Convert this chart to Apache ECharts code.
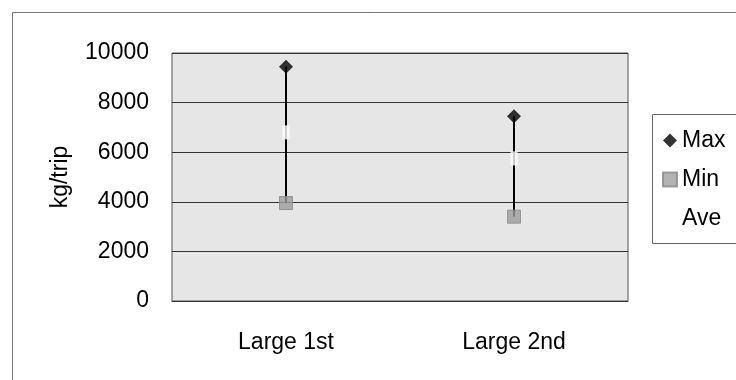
<!DOCTYPE html>
<html>
<head>
<meta charset="utf-8">
<script src="https://cdn.jsdelivr.net/npm/echarts@6/dist/echarts.min.js"></script>
<style>html,body{margin:0;padding:0;background:#fff;}#c{width:736px;height:380px;}</style>
</head>
<body>
<div id="c"></div>
<script>
const categories = ['Large 1st', 'Large 2nd'];
const maxValues = [9450, 7450];
const minValues = [3950, 3400];
const aveValues = [6800, 5750];
const yTicks = [0, 2000, 4000, 6000, 8000, 10000];

const FONT = 'Liberation Sans, Arial, sans-serif';
const chart = echarts.init(document.getElementById('c'), null, {renderer: 'canvas'});

const rangeData = categories.map((c, i) => [i, minValues[i], maxValues[i]]);

chart.setOption({
  animation: false,
  backgroundColor: '#fff',
  graphic: [
    {type: 'polyline', z: -10, shape: {points: [[12.5, 380], [12.5, 12.5], [736, 12.5]]}, style: {stroke: '#777', lineWidth: 1, fill: null}},
    {type: 'rect', z: -10, shape: {x: 652.5, y: 114.5, width: 120, height: 129}, style: {stroke: '#666', lineWidth: 1, fill: '#fff'}}
  ],
  grid: {left: 172, right: 108, top: 53, bottom: 79, show: true, backgroundColor: '#e6e6e6', borderColor: '#555', borderWidth: 1},
  legend: {
    orient: 'vertical', left: 657, top: 124, itemGap: 16, itemWidth: 14, itemHeight: 14,
    textStyle: {fontFamily: FONT, fontSize: 23, color: '#000'},
    data: [
      {name: 'Max', icon: 'diamond', itemStyle: {color: '#000'}},
      {name: 'Min', icon: 'rect', itemStyle: {color: '#a0a0a0'}},
      {name: 'Ave', icon: 'rect', itemStyle: {color: '#fff'}}
    ]
  },
  xAxis: {
    type: 'category', data: categories, boundaryGap: true,
    axisLine: {lineStyle: {color: '#333', width: 1}},
    axisTick: {inside: true, length: 5, lineStyle: {color: '#333'}},
    axisLabel: {fontFamily: FONT, fontSize: 23, color: '#000', margin: 30},
    splitLine: {show: false}
  },
  yAxis: {
    type: 'value', min: yTicks[0], max: yTicks[yTicks.length - 1], interval: 2000,
    name: 'kg/trip', nameLocation: 'middle', nameGap: 100, nameRotate: 90,
    nameTextStyle: {fontFamily: FONT, fontSize: 23, color: '#000'},
    axisLine: {show: false}, axisTick: {show: false},
    axisLabel: {fontFamily: FONT, fontSize: 23, color: '#000', margin: 23, formatter: v => String(v)},
    splitLine: {lineStyle: {color: '#333', width: 1}}
  },
  series: [
    {
      type: 'custom', name: 'range', z: 1, silent: true,
      data: rangeData,
      renderItem: function (params, api) {
        const lo = api.coord([api.value(0), api.value(1)]);
        const hi = api.coord([api.value(0), api.value(2)]);
        return {type: 'line', shape: {x1: lo[0], y1: lo[1], x2: hi[0], y2: hi[1]}, style: {stroke: '#000', lineWidth: 2}};
      }
    },
    {type: 'scatter', name: 'Max', z: 3, data: maxValues, symbol: 'diamond', symbolSize: 14, itemStyle: {color: '#000'}},
    {type: 'scatter', name: 'Min', z: 3, data: minValues, symbol: 'rect', symbolSize: 13, itemStyle: {color: '#9c9c9c', borderColor: '#888', borderWidth: 1}},
    {type: 'scatter', name: 'Ave', z: 3, data: aveValues, symbol: 'rect', symbolSize: [7, 14], itemStyle: {color: '#fff'}}
  ]
});
</script>
</body>
</html>
